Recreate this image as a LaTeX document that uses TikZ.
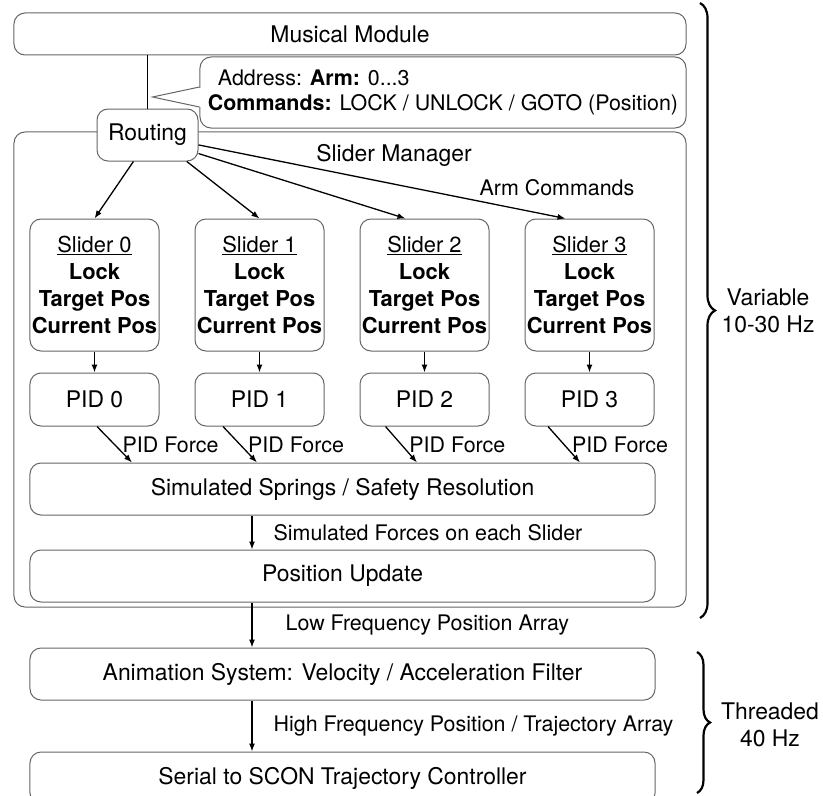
\documentclass[tikz,border=0pt]{standalone}
\usepackage{fontspec}
\setmainfont{TeX Gyre Heros}
\usetikzlibrary{arrows.meta,positioning,decorations.pathreplacing,calc}
\tikzset{box/.style={draw=black!60,line width=1bp,rounded corners=11bp,align=center,fill=white,inner sep=0pt,font=\fontsize{23}{27}\selectfont},slider/.style={box,minimum width=129bp,minimum height=132bp,font=\fontsize{22}{27}\selectfont},pid/.style={box,minimum width=129bp,minimum height=53bp},wide/.style={box,minimum width=625bp,minimum height=52bp},arrow/.style={-{Latex[length=8bp,width=6bp]},line width=1.3bp},lbl/.style={font=\fontsize{21.5}{25}\selectfont,inner sep=0pt},brc/.style={decorate,decoration={brace,amplitude=#1},line width=2.2bp},brc/.default=14bp}

\begin{document}
\begin{tikzpicture}[x=1bp,y=-1bp,node distance=21bp and 35bp]
\useasboundingbox (0,0) rectangle (823,796);
\node[box,minimum width=672bp,minimum height=42bp] (musical) at (350,34) {Musical Module};
\node[box,minimum width=672bp,minimum height=475bp] (manager) at (350,369.5) {};
\node[box,minimum width=486bp,minimum height=71bp,align=left,font=\fontsize{21.5}{25}\selectfont] (callout) at (443,92.5) {\hspace*{10bp}Address: \textbf{Arm:} 0...3\\\textbf{Commands:} LOCK / UNLOCK / GOTO (Position)};
% speech bubble pointer
\fill[white] ($(callout.west)+(-1.5,-5)$) rectangle ($(callout.west)+(1.5,14)$);
\draw[draw=black!60,line width=1bp] ($(callout.west)+(0,-5.5)$) -- ($(callout.west)+(-47,4.5)$) -- ($(callout.west)+(0,14.5)$);
\node[box,minimum width=101bp,minimum height=52bp] (routing) at (147.5,135) {Routing};
\draw[line width=1.2bp] (musical.south -| routing.north) -- (routing.north);
\node[lbl,font=\fontsize{23}{27}\selectfont] (title) at (394,155) {Slider Manager};
\node[lbl] (armcmd) at (557,188) {Arm Commands};
% sliders and PIDs
\node[slider] (s0) at (94.5,285) {\underline{Slider 0}\\\textbf{Lock}\\\textbf{Target Pos}\\\textbf{Current Pos}};
\node[slider,right=of s0] (s1) {\underline{Slider 1}\\\textbf{Lock}\\\textbf{Target Pos}\\\textbf{Current Pos}};
\node[slider,right=of s1] (s2) {\underline{Slider 2}\\\textbf{Lock}\\\textbf{Target Pos}\\\textbf{Current Pos}};
\node[slider,right=of s2] (s3) {\underline{Slider 3}\\\textbf{Lock}\\\textbf{Target Pos}\\\textbf{Current Pos}};
\node[pid,below=of s0] (p0) {PID 0};
\node[pid,below=of s1] (p1) {PID 1};
\node[pid,below=of s2] (p2) {PID 2};
\node[pid,below=of s3] (p3) {PID 3};
\node[wide] (springs) at (342.5,489) {Simulated Springs / Safety Resolution};
\node[wide,below=34bp of springs] (update) {Position Update};
\node[wide,below=45bp of update] (anim) {Animation System: Velocity / Acceleration Filter};
\node[wide,below=51bp of anim] (serial) {Serial to SCON Trajectory Controller};
\draw[arrow] (routing.-118) -- (s0.north); \draw[arrow] (routing.-34) -- (s1.north); \draw[arrow] (routing.-20) -- ([xshift=-19bp]s2.north); \draw[arrow] (routing.-11) -- ([xshift=-24bp]s3.north);
\draw[arrow] (s0) -- (p0); \draw[arrow] (s1) -- (p1); \draw[arrow] (s2) -- (p2); \draw[arrow] (s3) -- (p3);
\draw[arrow] ([xshift=2.5bp]p0.south) -- ([xshift=-210.5bp]springs.north) node[lbl,midway,right=7.5bp] {PID Force};
\draw[arrow] ([xshift=-36.5bp]p1.south) -- ([xshift=-85.5bp]springs.north) node[lbl,midway,right=7.5bp] {PID Force};
\draw[arrow] ([xshift=-39bp]p2.south) -- ([xshift=74.5bp]springs.north) node[lbl,midway,right=7.5bp] {PID Force};
\draw[arrow] ([xshift=-41.5bp]p3.south) -- ([xshift=237.5bp]springs.north) node[lbl,midway,right=7.5bp] {PID Force};
\draw[arrow] ([xshift=-90.5bp]springs.south) -- ([xshift=-90.5bp]update.north) node[lbl,midway,right=21bp] {Simulated Forces on each Slider};
\draw[arrow] ([xshift=-90.5bp]update.south) -- ([xshift=-90.5bp]anim.north) node[lbl,midway,right=33bp] {Low Frequency Position Array};
\draw[arrow] ([xshift=-90.5bp]anim.south) -- ([xshift=-90.5bp]serial.north) node[lbl,midway,right=21bp] {High Frequency Position / Trajectory Array};
% rate braces
\draw[brc=15bp] (700,3) -- (700,618);
\draw[brc=13bp] (697,652) -- (697,793);
\node[lbl,font=\fontsize{23}{27}\selectfont,align=center] (variable) at (768,311) {Variable\\10-30 Hz};
\node[lbl,font=\fontsize{23}{27}\selectfont,align=center] (threaded) at (770,725) {Threaded\\40 Hz};
\end{tikzpicture}
\end{document}
